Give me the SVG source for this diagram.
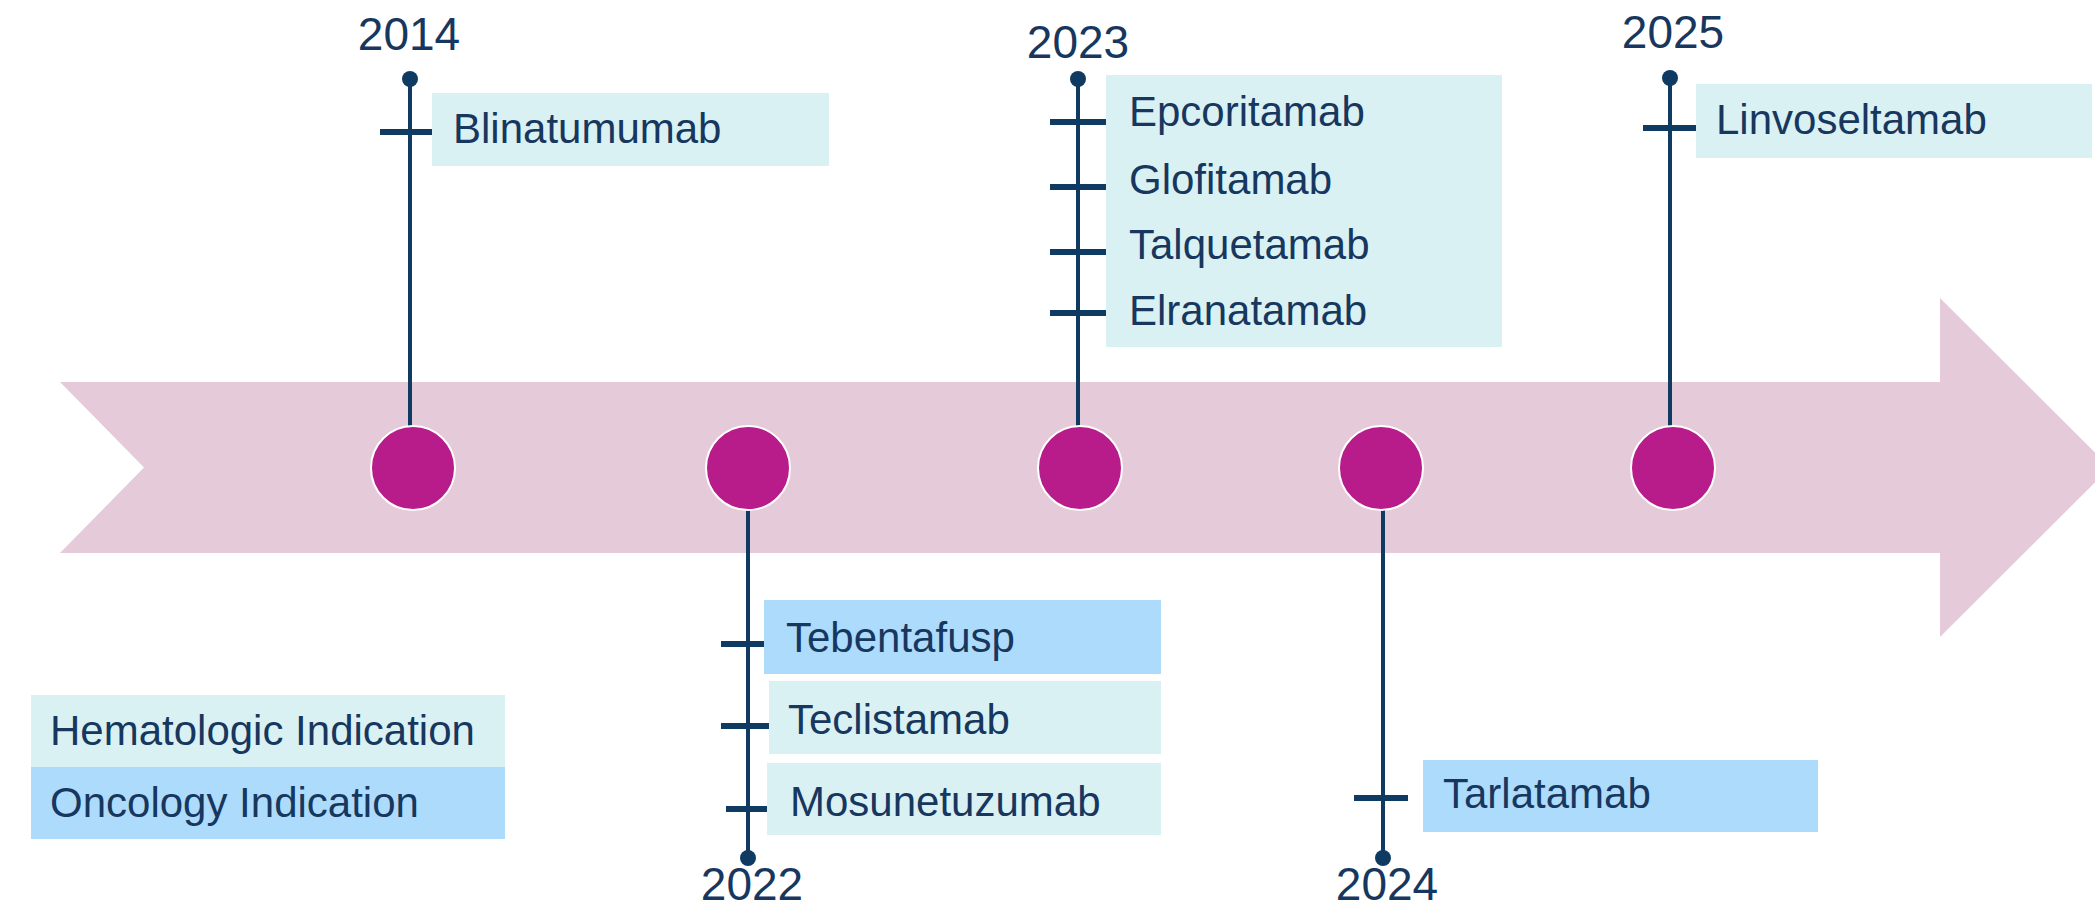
<svg xmlns="http://www.w3.org/2000/svg" width="2095" height="910" viewBox="0 0 2095 910">
<style>
.band{fill:#E5CBDA}
.dot{fill:#B81C8A;stroke:#FFFFFF;stroke-width:2}
.stem{stroke:#0F3B63;stroke-width:4;fill:none}
.tick{stroke:#0F3B63;stroke-width:6;fill:none}
.end{fill:#0F3B63}
.hem{fill:#DAF1F4}
.onc{fill:#ADDBFC}
.lbl{font-family:"Liberation Sans",Arial,sans-serif;font-size:42px;fill:#17375E}
.yr{font-family:"Liberation Sans",Arial,sans-serif;font-size:46px;fill:#17375E;text-anchor:middle}
</style>
<rect width="2095" height="910" fill="#FFFFFF"/>
<polygon class="band" points="60,382 1940,382 1940,298 2110,467.5 1940,637 1940,553 60,553 144,467.5"/>
<g id="connectors">
<line class="stem" x1="410" y1="79" x2="410" y2="428"/>
<circle class="end" cx="410" cy="79" r="8"/>
<line class="tick" x1="380" y1="132" x2="432" y2="132"/>
<line class="stem" x1="1078" y1="79" x2="1078" y2="428"/>
<circle class="end" cx="1078" cy="79" r="8"/>
<line class="tick" x1="1050" y1="122" x2="1106" y2="122"/>
<line class="tick" x1="1050" y1="187" x2="1106" y2="187"/>
<line class="tick" x1="1050" y1="252" x2="1106" y2="252"/>
<line class="tick" x1="1050" y1="313" x2="1106" y2="313"/>
<line class="stem" x1="1670" y1="78" x2="1670" y2="428"/>
<circle class="end" cx="1670" cy="78" r="8"/>
<line class="tick" x1="1643" y1="128" x2="1696" y2="128"/>
<line class="stem" x1="748" y1="508" x2="748" y2="858"/>
<circle class="end" cx="748" cy="858" r="8"/>
<line class="tick" x1="721" y1="644" x2="764" y2="644"/>
<line class="tick" x1="721" y1="726" x2="769" y2="726"/>
<line class="tick" x1="726" y1="809" x2="767" y2="809"/>
<line class="stem" x1="1383" y1="508" x2="1383" y2="858"/>
<circle class="end" cx="1383" cy="858" r="8"/>
<line class="tick" x1="1354" y1="798" x2="1408" y2="798"/>
</g>
<g id="m2014">
<circle class="dot" cx="413" cy="468" r="42"/>
<text class="yr" x="409" y="50">2014</text>
<rect class="hem" x="432" y="93" width="397" height="73"/>
<text class="lbl" x="453" y="143">Blinatumumab</text>
</g>
<g id="m2022">
<circle class="dot" cx="748" cy="468" r="42"/>
<text class="yr" x="752" y="900">2022</text>
<rect class="onc" x="764" y="600" width="397" height="74"/>
<text class="lbl" x="786" y="652">Tebentafusp</text>
<rect class="hem" x="769" y="681" width="392" height="73"/>
<text class="lbl" x="788" y="734">Teclistamab</text>
<rect class="hem" x="767" y="763" width="394" height="72"/>
<text class="lbl" x="790" y="816">Mosunetuzumab</text>
</g>
<g id="m2023">
<circle class="dot" cx="1080" cy="468" r="42"/>
<text class="yr" x="1078" y="58">2023</text>
<rect class="hem" x="1106" y="75" width="396" height="272"/>
<text class="lbl" x="1129" y="126">Epcoritamab</text>
<text class="lbl" x="1129" y="194">Glofitamab</text>
<text class="lbl" x="1129" y="259">Talquetamab</text>
<text class="lbl" x="1129" y="325">Elranatamab</text>
</g>
<g id="m2024">
<circle class="dot" cx="1381" cy="468" r="42"/>
<text class="yr" x="1387" y="900">2024</text>
<rect class="onc" x="1423" y="760" width="395" height="72"/>
<text class="lbl" x="1443" y="808">Tarlatamab</text>
</g>
<g id="m2025">
<circle class="dot" cx="1673" cy="468" r="42"/>
<text class="yr" x="1673" y="48">2025</text>
<rect class="hem" x="1696" y="84" width="396" height="74"/>
<text class="lbl" x="1716" y="134">Linvoseltamab</text>
</g>
<g id="legend">
<rect class="hem" x="31" y="695" width="474" height="72"/>
<text class="lbl" x="50" y="745">Hematologic Indication</text>
<rect class="onc" x="31" y="767" width="474" height="72"/>
<text class="lbl" x="50" y="817">Oncology Indication</text>
</g>
</svg>
